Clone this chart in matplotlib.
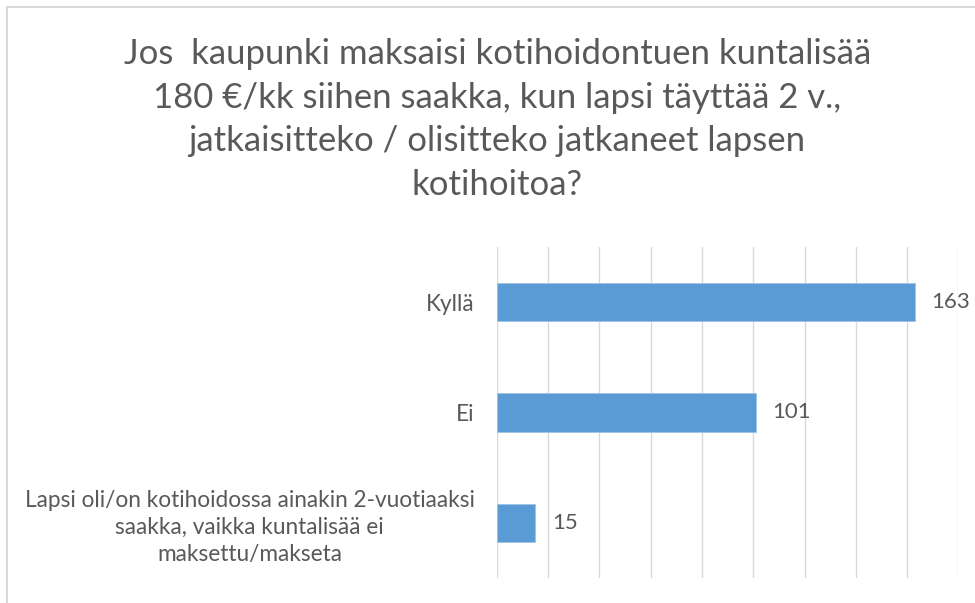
import matplotlib.pyplot as plt
from matplotlib.lines import Line2D

# vastaukset
categories = ['Kyllä', 'Ei',
              'Lapsi oli/on kotihoidossa ainakin 2-vuotiaaksi\nsaakka, vaikka kuntalisää ei\nmaksettu/makseta']
values = [163, 101, 15]
title = ('Jos  kaupunki maksaisi kotihoidontuen kuntalisää\n'
         '180 €/kk siihen saakka, kun lapsi täyttää 2 v.,\n'
         'jatkaisitteko / olisitteko jatkaneet lapsen\n'
         'kotihoitoa?')

text_col = '#595959'
grid_col = '#d9d9d9'
bar_col = '#5b9bd5'
fnt = ['Lato', 'DejaVu Sans']

fig = plt.figure(figsize=(9.75, 6.03), dpi=100)
ax = fig.add_axes([0.5097, 0.0415, 0.9829 - 0.5097, 0.5904 - 0.0415])

pos = list(range(len(categories)))
ax.barh(pos, values, height=0.35, color=bar_col, edgecolor='#9dc3e6', linewidth=0.6, zorder=3)
ax.set_ylim(len(categories) - 0.5, -0.5)
ax.set_xlim(0, 180)
ax.set_xticks(range(0, 181, 20))
ax.grid(axis='x', color=grid_col, linewidth=1, zorder=0)
ax.tick_params(axis='x', length=0, labelbottom=False)
ax.tick_params(axis='y', length=0, pad=16)
ax.set_yticks(pos)
ax.set_yticklabels(categories, fontsize=16.3, color=text_col, family=fnt,
                   multialignment='center', linespacing=1.35)
for s in ax.spines.values():
    s.set_visible(False)

for p, v in zip(pos, values):
    ax.annotate(str(v), (v, p), xytext=(12, 0), textcoords='offset points',
                va='center', ha='left', fontsize=16, color=text_col, family=fnt,
                annotation_clip=False)

fig.text(0.51, 1 - 38 / 603, title, ha='center', va='top', fontsize=25, color=text_col,
         family=fnt, linespacing=1.45)

# kehys (oikea reuna jää kuvan ulkopuolelle)
fig.add_artist(Line2D([7 / 975, 7 / 975], [0, 1 - 7 / 603], color=grid_col, lw=1.5))
fig.add_artist(Line2D([7 / 975, 1], [1 - 7 / 603, 1 - 7 / 603], color=grid_col, lw=1.5))

fig.savefig('out.png', dpi=100)
